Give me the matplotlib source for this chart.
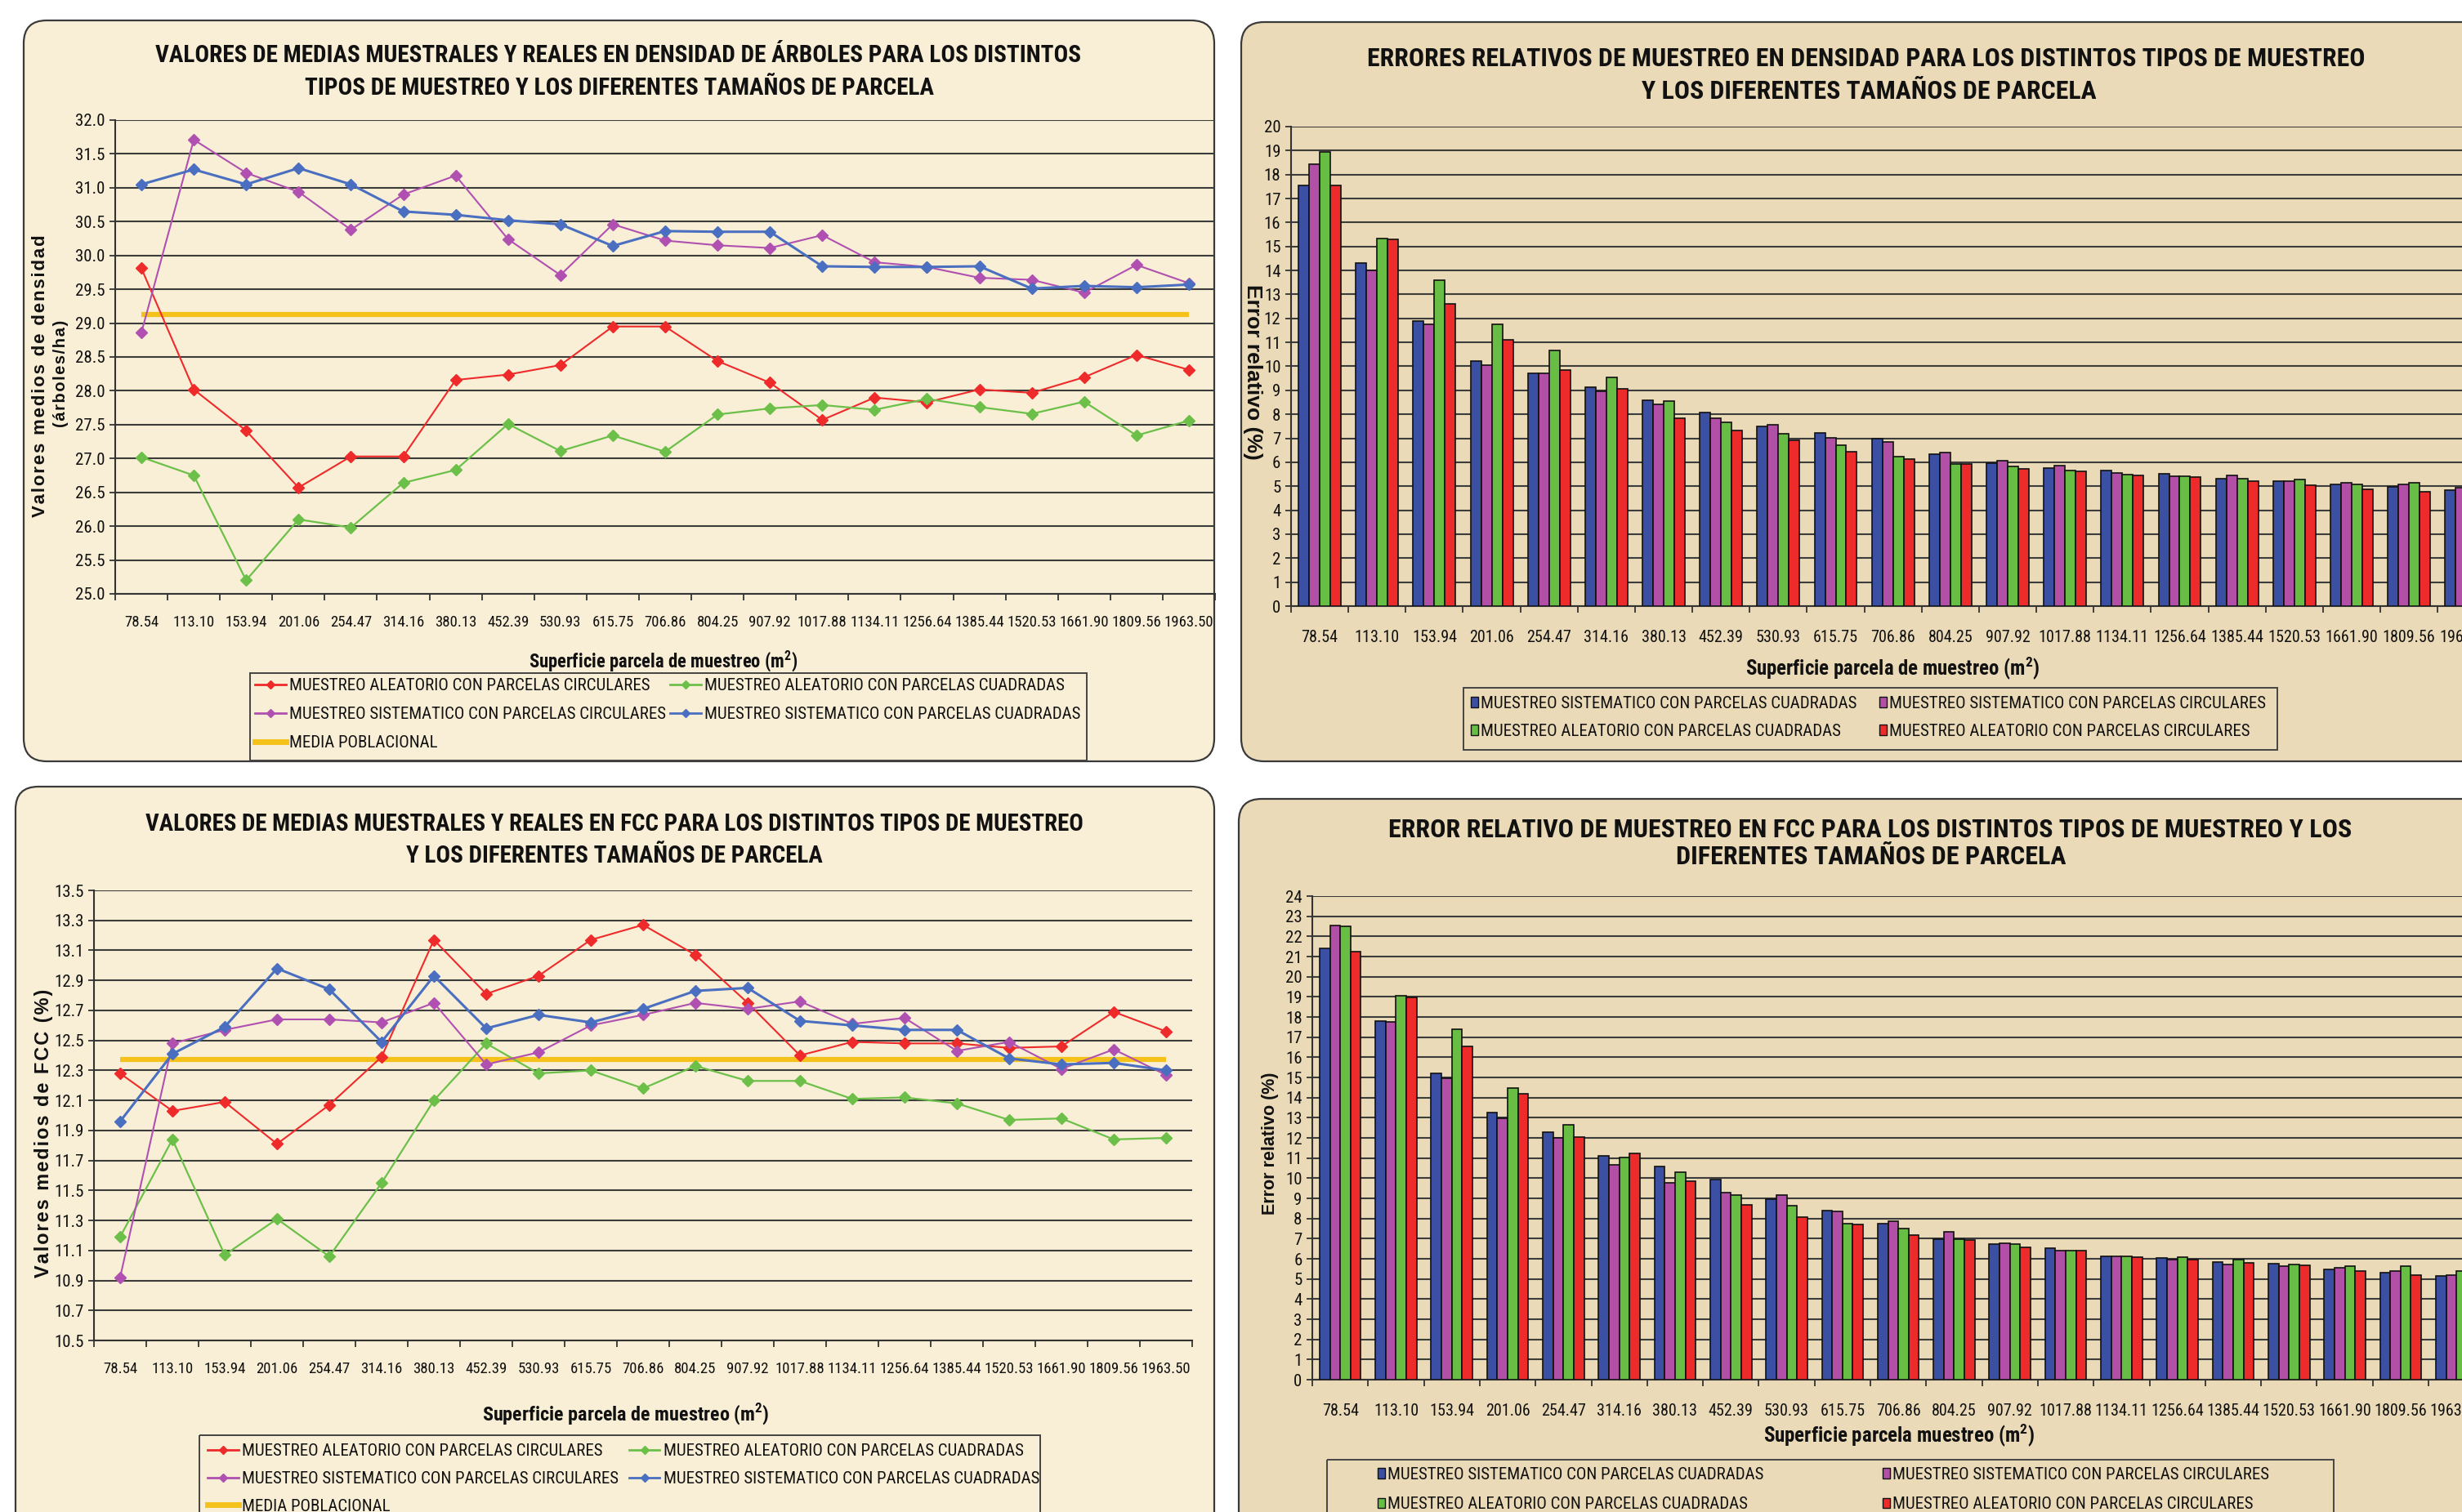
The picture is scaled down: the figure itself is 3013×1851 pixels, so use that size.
import matplotlib
matplotlib.use("Agg")
import matplotlib.pyplot as plt
import numpy as np
from matplotlib import font_manager
from matplotlib.lines import Line2D
from matplotlib.patches import FancyBboxPatch, Patch, Rectangle

W, H = 3013, 1851

# ---- data -------------------------------------------------------------
areas = ["78.54", "113.10", "153.94", "201.06", "254.47", "314.16", "380.13",
         "452.39", "530.93", "615.75", "706.86", "804.25", "907.92", "1017.88",
         "1134.11", "1256.64", "1385.44", "1520.53", "1661.90", "1809.56", "1963.50"]

# mean tree density (arboles/ha)
dens_alea_circ = [29.81, 28.02, 27.41, 26.57, 27.03, 27.03, 28.16, 28.24, 28.38, 28.95, 28.95,
                  28.44, 28.12, 27.57, 27.90, 27.83, 28.02, 27.97, 28.20, 28.53, 28.31]
dens_alea_cuad = [27.02, 26.75, 25.20, 26.10, 25.98, 26.64, 26.83, 27.51, 27.11, 27.34, 27.10,
                  27.65, 27.74, 27.79, 27.72, 27.88, 27.76, 27.66, 27.84, 27.34, 27.56]
dens_sist_circ = [28.86, 31.71, 31.22, 30.94, 30.38, 30.90, 31.18, 30.24, 29.71, 30.46, 30.22,
                  30.15, 30.11, 30.30, 29.90, 29.83, 29.67, 29.64, 29.45, 29.86, 29.59]
dens_sist_cuad = [31.05, 31.27, 31.05, 31.29, 31.05, 30.65, 30.60, 30.52, 30.46, 30.14, 30.36,
                  30.35, 30.35, 29.84, 29.83, 29.83, 29.84, 29.51, 29.55, 29.53, 29.57]
dens_media = 29.13

# mean FCC (%)
fcc_alea_circ = [12.28, 12.03, 12.09, 11.81, 12.07, 12.39, 13.17, 12.81, 12.93, 13.17, 13.27,
                 13.07, 12.75, 12.40, 12.49, 12.48, 12.48, 12.45, 12.46, 12.69, 12.56]
fcc_alea_cuad = [11.19, 11.84, 11.07, 11.31, 11.06, 11.55, 12.10, 12.48, 12.28, 12.30, 12.18,
                 12.33, 12.23, 12.23, 12.11, 12.12, 12.08, 11.97, 11.98, 11.84, 11.85]
fcc_sist_circ = [10.92, 12.48, 12.57, 12.64, 12.64, 12.62, 12.75, 12.34, 12.42, 12.60, 12.67,
                 12.75, 12.71, 12.76, 12.61, 12.65, 12.43, 12.49, 12.31, 12.44, 12.27]
fcc_sist_cuad = [11.96, 12.41, 12.59, 12.98, 12.84, 12.49, 12.93, 12.58, 12.67, 12.62, 12.71,
                 12.83, 12.85, 12.63, 12.60, 12.57, 12.57, 12.38, 12.34, 12.35, 12.30]
fcc_media = 12.375

# relative sampling error in density (%)
err_dens_sist_cuad = [17.55, 14.31, 11.90, 10.23, 9.71, 9.13, 8.60, 8.06, 7.48, 7.24, 6.97,
                      6.33, 5.96, 5.75, 5.67, 5.51, 5.32, 5.20, 5.07, 4.97, 4.85]
err_dens_sist_circ = [18.43, 14.00, 11.77, 10.06, 9.71, 8.95, 8.41, 7.84, 7.55, 7.03, 6.85,
                      6.39, 6.06, 5.86, 5.57, 5.42, 5.44, 5.20, 5.15, 5.09, 4.95]
err_dens_alea_cuad = [18.95, 15.34, 13.59, 11.77, 10.66, 9.55, 8.54, 7.67, 7.20, 6.72, 6.25,
                      5.92, 5.84, 5.67, 5.48, 5.42, 5.32, 5.28, 5.07, 5.15, 5.00]
err_dens_alea_circ = [17.55, 15.30, 12.60, 11.11, 9.84, 9.07, 7.84, 7.32, 6.91, 6.43, 6.12,
                      5.92, 5.73, 5.61, 5.44, 5.38, 5.20, 5.03, 4.87, 4.78, 4.80]

# relative sampling error in FCC (%)
err_fcc_sist_cuad = [21.39, 17.81, 15.22, 13.24, 12.28, 11.10, 10.58, 9.93, 8.97, 8.41, 7.74,
                     6.97, 6.71, 6.53, 6.13, 6.04, 5.85, 5.76, 5.48, 5.31, 5.13]
err_fcc_sist_circ = [22.54, 17.74, 14.94, 12.98, 12.00, 10.65, 9.79, 9.30, 9.18, 8.37, 7.88,
                     7.32, 6.76, 6.41, 6.13, 5.97, 5.73, 5.64, 5.57, 5.41, 5.20]
err_fcc_alea_cuad = [22.50, 19.07, 17.41, 14.48, 12.63, 11.03, 10.30, 9.18, 8.62, 7.74, 7.48,
                     6.97, 6.71, 6.41, 6.13, 6.08, 5.94, 5.71, 5.64, 5.64, 5.41]
err_fcc_alea_circ = [21.24, 18.97, 16.53, 14.20, 12.05, 11.21, 9.86, 8.69, 8.08, 7.69, 7.17,
                     6.95, 6.55, 6.41, 6.08, 5.94, 5.80, 5.69, 5.41, 5.20, 5.20]

lbl_alea_circ = "MUESTREO ALEATORIO CON PARCELAS CIRCULARES"
lbl_alea_cuad = "MUESTREO ALEATORIO CON PARCELAS CUADRADAS"
lbl_sist_circ = "MUESTREO SISTEMATICO CON PARCELAS CIRCULARES"
lbl_sist_cuad = "MUESTREO SISTEMATICO CON PARCELAS CUADRADAS"
lbl_media = "MEDIA POBLACIONAL"

# ---- style ------------------------------------------------------------
def pick(names, default):
    for n in names:
        try:
            font_manager.findfont(n, fallback_to_default=False)
            return n
        except ValueError:
            continue
    return default

NARROW = [pick(["Liberation Sans Narrow", "Arial Narrow", "Roboto Condensed",
                "Archivo Narrow"], "Liberation Sans"), "DejaVu Sans"]
WIDE = ["Liberation Sans", "DejaVu Sans"]
plt.rcParams["font.family"] = NARROW
plt.rcParams["mathtext.fontset"] = "custom"
plt.rcParams["mathtext.rm"] = NARROW[0]
plt.rcParams["mathtext.bf"] = NARROW[0] + ":bold"

RED, GREEN, MAG, BLUE, YELLOW = "#ee2a2a", "#6cc04a", "#b050b0", "#4a6fc0", "#f5c21b"
B_BLUE, B_MAG, B_GREEN, B_RED = "#3b4fa3", "#b150a6", "#68bd45", "#ee2b2b"
PANEL_L, PANEL_R = "#f9efd6", "#eadab7"
GRID = "#3c3c3c"
TXT = "#111111"
HS = "\u200a"  # hair space, used for the letter-spaced axis titles

fig = plt.figure(figsize=(W / 100, H / 100), dpi=100)
fig.patch.set_facecolor("white")

bg = fig.add_axes([0, 0, 1, 1], zorder=-10)
bg.set_xlim(0, W)
bg.set_ylim(H, 0)
bg.axis("off")


def px_box(x0, y0, x1, y1):
    return [x0 / W, 1 - y1 / H, (x1 - x0) / W, (y1 - y0) / H]


def panel(x0, y0, x1, y1, color):
    bg.add_patch(FancyBboxPatch((x0, y0), x1 - x0, y1 - y0,
                                boxstyle="round,pad=0,rounding_size=28",
                                fc=color, ec="#3a3a3a", lw=1.6))


fit_list = []


def ftext(x, y, s, width, rot=0, **kw):
    t = fig.text(x / W, 1 - y / H, s, ha="center", va="center", rotation=rot,
                 color=TXT, **kw)
    fit_list.append((t, width, rot))
    return t


def spaced(s):
    return HS.join(s)


panel(29, 25, 1486, 932, PANEL_L)
panel(1519, 27, 3080, 932, PANEL_R)
panel(19, 963, 1486, 1900, PANEL_L)
panel(1516, 978, 3080, 1900, PANEL_R)

x = np.arange(len(areas))


def style_axis(ax, ylim, yticks, fmt, xsize):
    ax.set_facecolor("none")
    ax.set_xlim(-0.5, len(areas) - 0.5)
    ax.set_ylim(*ylim)
    ax.set_yticks(yticks)
    ax.set_yticklabels([fmt.format(v) for v in yticks])
    ax.yaxis.grid(True, color=GRID, lw=1.5)
    ax.set_axisbelow(True)
    ax.set_xticks(x)
    ax.set_xticklabels(areas)
    ax.set_xticks(np.arange(-0.5, len(areas)), minor=True)
    ax.tick_params(axis="x", which="major", length=0, pad=19, labelsize=xsize, colors=TXT)
    ax.tick_params(axis="x", which="minor", length=6, width=1.3, color="#333333")
    ax.tick_params(axis="y", length=5, width=1.3, color="#333333", labelsize=15, pad=4,
                   labelcolor=TXT)
    for s in ["top", "right"]:
        ax.spines[s].set_visible(False)
    for s in ["left", "bottom"]:
        ax.spines[s].set_color("#333333")
        ax.spines[s].set_linewidth(1.5)


def line_chart(box, ylim, yticks, ser, media):
    ax = fig.add_axes(px_box(*box))
    style_axis(ax, ylim, yticks, "{:.1f}", 13.5)
    for vals, col, lw in ser:
        ax.plot(x, vals, color=col, lw=lw, marker="D", ms=7, mfc=col, mec=col, zorder=3)
    ax.plot([x[0], x[-1]], [media, media], color=YELLOW, lw=4.5, zorder=2,
            solid_capstyle="butt")
    return ax


def bar_chart(box, ylim, ser):
    ax = fig.add_axes(px_box(*box))
    style_axis(ax, ylim, np.arange(ylim[0], ylim[1] + 1, 1), "{:.0f}", 14.5)
    ax.tick_params(axis="x", which="major", pad=21)
    bw = 0.185
    for i, (vals, col) in enumerate(ser):
        ax.bar(x + (i - 1.5) * bw, vals, width=bw, color=col, edgecolor="#111111",
               lw=1.2, zorder=3)
    return ax


def legend_column(cx, cy_first, handles, labels, spacing, hl, hh, pad):
    fs = 15
    top = cy_first - 0.62 * fs * 100 / 72
    fig.legend(handles, labels, loc="upper left", bbox_to_anchor=(cx / W, 1 - top / H),
               ncol=1, fontsize=fs, frameon=False, handlelength=hl, handleheight=hh,
               handletextpad=pad, labelspacing=spacing, borderpad=0, borderaxespad=0,
               labelcolor=TXT)


def frame(x0, y0, x1, y1):
    bg.add_patch(Rectangle((x0, y0), x1 - x0, y1 - y0, fill=False, ec="#444444", lw=1.4))


def mk_line(c):
    return Line2D([], [], color=c, lw=2, marker="D", ms=5, mfc=c, mec=c)


def line_legend(box, c1, c2, row1, spacing):
    frame(*box)
    legend_column(c1, row1, [mk_line(RED), mk_line(MAG), Line2D([], [], color=YELLOW, lw=5)],
                  [lbl_alea_circ, lbl_sist_circ, lbl_media], spacing, 1.8, 0.7, 0.2)
    legend_column(c2, row1, [mk_line(GREEN), mk_line(BLUE)],
                  [lbl_alea_cuad, lbl_sist_cuad], spacing, 1.8, 0.7, 0.2)


def bar_legend(box, c1, c2, row1, spacing):
    frame(*box)
    sq = lambda c: Patch(fc=c, ec="#111111", lw=1)
    legend_column(c1, row1, [sq(B_BLUE), sq(B_GREEN)], [lbl_sist_cuad, lbl_alea_cuad],
                  spacing, 0.42, 0.55, 0.15)
    legend_column(c2, row1, [sq(B_MAG), sq(B_RED)], [lbl_sist_circ, lbl_alea_circ],
                  spacing, 0.42, 0.55, 0.15)


# ---- top left: mean density -------------------------------------------
line_chart((141, 147, 1487, 727), (25, 32), np.arange(25, 32.01, 0.5),
           [(dens_alea_circ, RED, 1.5), (dens_alea_cuad, GREEN, 1.6),
            (dens_sist_circ, MAG, 1.5), (dens_sist_cuad, BLUE, 2.2)], dens_media)
ftext(756, 68, "VALORES DE MEDIAS MUESTRALES Y REALES EN DENSIDAD DE ÁRBOLES PARA LOS DISTINTOS",
      1132, fontweight="bold", fontsize=19)
ftext(758, 108, "TIPOS DE MUESTREO Y LOS DIFERENTES TAMAÑOS DE PARCELA", 771,
      fontweight="bold", fontsize=19)
ftext(812, 809, r"Superficie parcela de muestreo (m$^{\mathbf{2}}$)", 331,
      fontweight="bold", fontsize=15)
ftext(50, 460, spaced("Valores medios de densidad"), 346, rot=90,
      fontweight="bold", fontsize=14, family=WIDE)
ftext(74, 457, spaced("(árboles/ha)"), 132, rot=90, fontweight="bold", fontsize=14,
      family=WIDE)
line_legend((306, 824, 1330, 931), 312, 820, 843, 0.77)

# ---- bottom left: mean FCC --------------------------------------------
line_chart((115, 1090, 1459, 1641), (10.5, 13.5), np.arange(10.5, 13.51, 0.2),
           [(fcc_alea_circ, RED, 1.5), (fcc_alea_cuad, GREEN, 1.6),
            (fcc_sist_circ, MAG, 1.5), (fcc_sist_cuad, BLUE, 2.2)], fcc_media)
ftext(752, 1009, "VALORES DE MEDIAS MUESTRALES Y REALES EN FCC PARA LOS DISTINTOS TIPOS DE MUESTREO",
      1150, fontweight="bold", fontsize=19)
ftext(752, 1048, "Y LOS DIFERENTES TAMAÑOS DE PARCELA", 509, fontweight="bold", fontsize=19)
ftext(766, 1732, r"Superficie parcela de muestreo (m$^{\mathbf{2}}$)", 353,
      fontweight="bold", fontsize=15)
ftext(54, 1387, spaced("Valores medios de FCC (%)"), 353, rot=90,
      fontweight="bold", fontsize=14, family=WIDE)
line_legend((244, 1757, 1273, 1900), 254, 770, 1780, 0.71)

# ---- top right: relative error density --------------------------------
bar_chart((1580, 155, 1580 + 21 * 70.16, 742), (0, 20),
          [(err_dens_sist_cuad, B_BLUE), (err_dens_sist_circ, B_MAG),
           (err_dens_alea_cuad, B_GREEN), (err_dens_alea_circ, B_RED)])
ftext(2284, 72, "ERRORES RELATIVOS DE MUESTREO EN DENSIDAD PARA LOS DISTINTOS TIPOS DE MUESTREO",
      1221, fontweight="bold", fontsize=19)
ftext(2287, 112, "Y LOS DIFERENTES TAMAÑOS DE PARCELA", 556, fontweight="bold", fontsize=19)
ftext(2316, 818, r"Superficie parcela de muestreo (m$^{\mathbf{2}}$)", 362,
      fontweight="bold", fontsize=15)
ftext(1533, 455, "Error relativo (%)", 215, rot=-90, fontweight="bold", fontsize=17,
      family=WIDE)
bar_legend((1791, 842, 2787, 918), 1800, 2300, 865, 0.71)

# ---- bottom right: relative error FCC ---------------------------------
bar_chart((1606, 1097, 1606 + 21 * 68.3, 1689), (0, 24),
          [(err_fcc_sist_cuad, B_BLUE), (err_fcc_sist_circ, B_MAG),
           (err_fcc_alea_cuad, B_GREEN), (err_fcc_alea_circ, B_RED)])
ftext(2289, 1016, "ERROR RELATIVO DE MUESTREO EN FCC PARA LOS DISTINTOS TIPOS DE MUESTREO Y LOS",
      1178, fontweight="bold", fontsize=19)
ftext(2290, 1049, "DIFERENTES TAMAÑOS DE PARCELA", 475, fontweight="bold", fontsize=19)
ftext(2324, 1757, r"Superficie parcela muestreo (m$^{\mathbf{2}}$)", 334,
      fontweight="bold", fontsize=15)
ftext(1554, 1400, "Error relativo (%)", 175, rot=90, fontweight="bold", fontsize=14,
      family=WIDE)
bar_legend((1624, 1787, 2856, 1900), 1686, 2304, 1809, 0.82)

# scale the free texts to the widths measured on the reference
fig.canvas.draw()
renderer = fig.canvas.get_renderer()
for t, width, rot in fit_list:
    bb = t.get_window_extent(renderer)
    cur = bb.width if rot == 0 else bb.height
    t.set_fontsize(t.get_fontsize() * width / cur)

fig.savefig("out.png", dpi=100)
